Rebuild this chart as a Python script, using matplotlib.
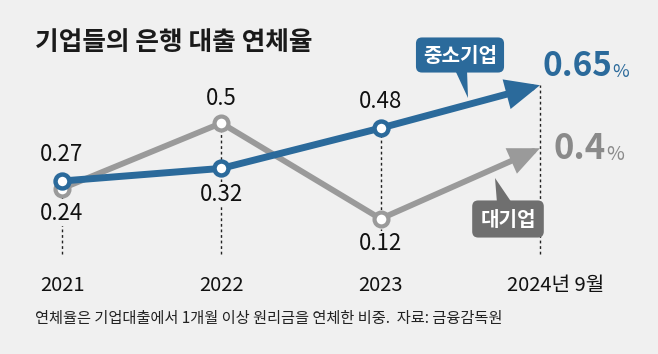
import matplotlib
matplotlib.use('Agg')
import matplotlib.pyplot as plt
from matplotlib.patches import Polygon

plt.rcParams['font.family'] = ['Noto Sans CJK KR', 'DejaVu Sans']

# data
years = ['2021', '2022', '2023', '2024년 9월']
sme = [0.27, 0.32, 0.48, 0.65]      # 중소기업
large = [0.24, 0.5, 0.12, 0.4]      # 대기업
sme_lbl = ['0.27', '0.32', '0.48']
large_lbl = ['0.24', '0.5', '0.12']
sme_side = [1, -1, 1]     # 1 = above, -1 = below
large_side = [-1, 1, -1]

blue = '#2b6a9b'
gray = '#9a9a9a'
bg = '#f0f0f0'

W, H = 658, 354
fig = plt.figure(figsize=(W / 100, H / 100), dpi=100, facecolor=bg)
ax = fig.add_axes([0, 0, 1, 1])
ax.set_facecolor(bg)
ax.set_xlim(-0.389, 3.741)
ax.set_ylim(-0.4165, 0.9883)
ax.axis('off')

def px(x, y):
    return (x / W, 1 - y / H)

x = list(range(len(years)))

# dashed guides
bottom = -0.02
for i in x:
    top = max(sme[i], large[i])
    if i == 0:
        top = min(sme[i], large[i])
    ax.plot([i, i], [bottom, top], ls=(0, (2, 2)), color='#222222', lw=1, zorder=1)

# gray line + arrow
ax.plot(x[:3], large[:3], color=gray, lw=4.2, zorder=2, solid_capstyle='butt')
ax.annotate('', xy=(x[3], large[3]), xytext=(x[2], large[2]),
            arrowprops=dict(arrowstyle='-|>,head_length=0.9,head_width=0.4',
                            mutation_scale=17, lw=4.2, color=gray,
                            shrinkA=0, shrinkB=0, joinstyle='miter'), zorder=2)
ax.plot(x[:3], large[:3], ls='none', marker='o', ms=10, mfc='white',
        mec=gray, mew=3, zorder=3)

# blue line + arrow
ax.plot(x[:3], sme[:3], color=blue, lw=5, zorder=4, solid_capstyle='butt')
ax.annotate('', xy=(x[3], sme[3]), xytext=(x[2], sme[2]),
            arrowprops=dict(arrowstyle='-|>,head_length=0.9,head_width=0.4',
                            mutation_scale=18, lw=5, color=blue,
                            shrinkA=0, shrinkB=0, joinstyle='miter'), zorder=4)
ax.plot(x[:3], sme[:3], ls='none', marker='o', ms=10, mfc='white',
        mec=blue, mew=3.2, zorder=5)

# value labels
box = dict(boxstyle='square,pad=0.05', fc=bg, ec='none')
for i in range(3):
    ax.annotate(sme_lbl[i], (x[i], sme[i]), xytext=(0, 19 * sme_side[i]),
                textcoords='offset points', ha='center', va='center',
                fontsize=16, color='#111111', bbox=box, zorder=6)
    ax.annotate(large_lbl[i], (x[i], large[i]), xytext=(0, 18 * large_side[i]),
                textcoords='offset points', ha='center', va='center',
                fontsize=16, color='#111111', bbox=box, zorder=6)

# end values
t1 = ax.annotate('0.65', (x[3], sme[3]), xytext=(2, 7), textcoords='offset points',
                 ha='left', va='baseline', fontsize=24, fontweight='bold', color=blue)
ax.annotate('%', xy=(1, 0), xycoords=t1, xytext=(0, 1), textcoords='offset points',
            ha='left', va='bottom', fontsize=13, color=blue)
t2 = ax.annotate('0.4', (x[3], large[3]), xytext=(10, -8), textcoords='offset points',
                 ha='left', va='baseline', fontsize=25, fontweight='bold', color='#8a8a8a')
ax.annotate('%', xy=(1, 0), xycoords=t2, xytext=(0, 1), textcoords='offset points',
            ha='left', va='bottom', fontsize=14, color='#8a8a8a')

# year labels
for i, y in enumerate(years):
    off = 11 if i == 3 else 0
    ax.annotate(y, (x[i], 0), xycoords=('data', 'axes fraction'),
                xytext=(off, 0.2 * H * 0.72 - 1.5), textcoords='offset points',
                ha='center', va='center', fontsize=14.5, color='#111111')

# series tags
ax.add_patch(Polygon([px(455, 70), px(467, 70), px(468, 98)], closed=True,
                     transform=fig.transFigure, fc=blue, ec='none', zorder=7))
fig.text(*px(460, 55), '중소기업', ha='center', va='center', fontsize=14.5,
         fontweight='bold', color='white', zorder=8,
         bbox=dict(boxstyle='round,pad=0.35,rounding_size=0.3', fc=blue, ec='none'))
ax.add_patch(Polygon([px(495, 178), px(497, 203), px(512, 203)], closed=True,
                     transform=fig.transFigure, fc='#6f6f6f', ec='none', zorder=7))
fig.text(*px(508, 219), '대기업', ha='center', va='center', fontsize=14.5,
         fontweight='bold', color='white', zorder=8,
         bbox=dict(boxstyle='round,pad=0.4,rounding_size=0.3', fc='#6f6f6f', ec='none'))

# title and note
fig.text(*px(35, 43), '기업들의 은행 대출 연체율', ha='left', va='center',
         fontsize=18.5, fontweight='bold', color='#1a1a1a')
fig.text(*px(35, 318), '연체율은 기업대출에서 1개월 이상 원리금을 연체한 비중.  자료: 금융감독원',
         ha='left', va='center', fontsize=11, color='#222222')

fig.savefig('out.png', dpi=100, facecolor=bg)
